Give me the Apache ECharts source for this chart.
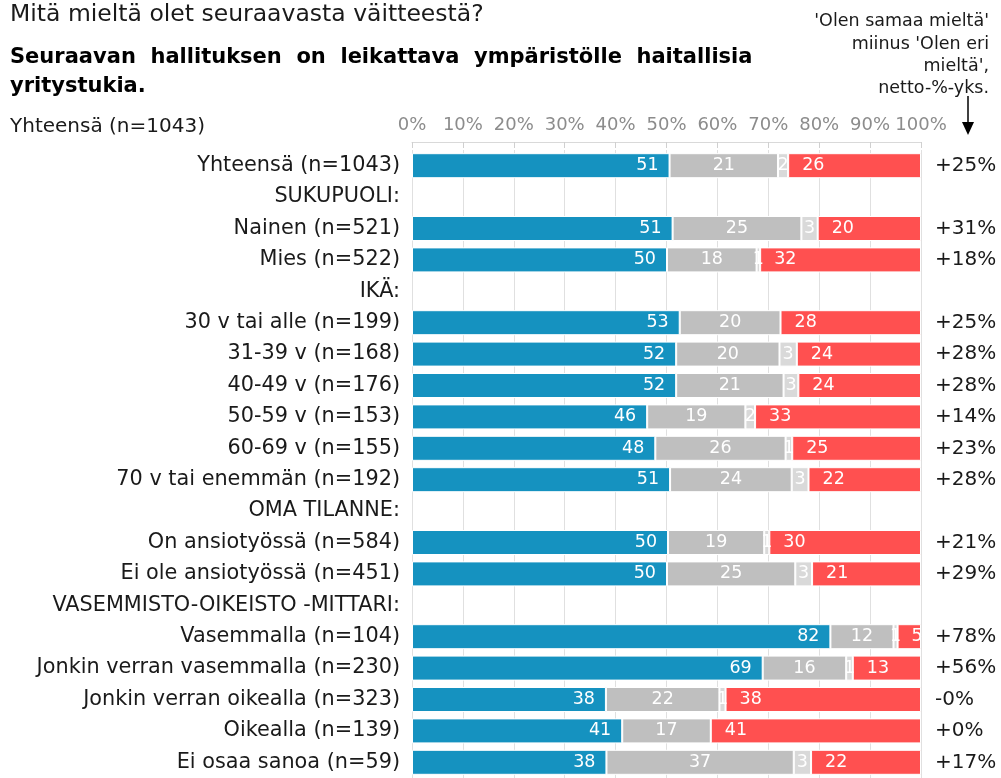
<!DOCTYPE html>
<html>
<head>
<meta charset="utf-8">
<script src="https://cdn.jsdelivr.net/npm/echarts@6/dist/echarts.min.js"></script>
<style>
html,body{margin:0;padding:0;background:#fff;}
#chart{width:1001px;height:778px;}
</style>
</head>
<body>
<div id="chart"></div>
<script>
const categories = ['Yhteensä (n=1043)', 'SUKUPUOLI:', 'Nainen (n=521)', 'Mies (n=522)', 'IKÄ:',
  '30 v tai alle (n=199)', '31-39 v (n=168)', '40-49 v (n=176)', '50-59 v (n=153)', '60-69 v (n=155)',
  '70 v tai enemmän (n=192)', 'OMA TILANNE:', 'On ansiotyössä (n=584)', 'Ei ole ansiotyössä (n=451)',
  'VASEMMISTO-OIKEISTO -MITTARI:', 'Vasemmalla (n=104)', 'Jonkin verran vasemmalla (n=230)',
  'Jonkin verran oikealla (n=323)', 'Oikealla (n=139)', 'Ei osaa sanoa (n=59)'];

const agree    = [50.6, null, 51.2, 50.1, null, 52.6, 51.9, 51.9, 46.2, 47.8, 50.7, null, 50.3, 50.1, null, 82.2, 68.9, 38.1, 41.3, 38.2];
const neutral  = [21.3, null, 25.3, 17.6, null, 19.8, 20.3, 21.1, 19.3, 25.6, 23.9, null, 18.9, 25.2, null, 12.4, 16.4, 22.3, 17.4, 36.8];
const dontKnow = [2.0,  null, 3.2,  0.7,  null, 0,    3.4,  2.9,  1.9,  1.3,  3.3,  null, 1.0,  3.3,  null, 0.8,  1.3,  1.2,  0,    3.4];
const disagree = [26.1, null, 20.3, 31.6, null, 27.6, 24.4, 24.1, 32.6, 25.3, 22.1, null, 29.8, 21.4, null, 4.6,  13.4, 38.4, 41.3, 21.6];
const netLabels = ['+25%', '', '+31%', '+18%', '', '+25%', '+28%', '+28%', '+14%', '+23%', '+28%', '', '+21%', '+29%', '', '+78%', '+56%', '-0%', '+0%', '+17%'];
const xTicks = [0, 10, 20, 30, 40, 50, 60, 70, 80, 90, 100];

const FONT = 'DejaVu Sans';
const fmt = p => (p.value == null || p.value === 0) ? '' : String(Math.round(p.value));

function mkSeries(name, data, color, pos, dist) {
  return {
    name, type: 'bar', stack: 'all', data, barWidth: 25,
    itemStyle: { color, borderColor: '#ffffff', borderWidth: 1 },
    label: { show: true, position: pos, distance: dist, color: '#ffffff', fontSize: 17.5, fontFamily: FONT, formatter: fmt },
    emphasis: { disabled: true }
  };
}

const chart = echarts.init(document.getElementById('chart'), null, { renderer: 'canvas' });
chart.setOption({
  animation: false,
  textStyle: { fontFamily: FONT },
  grid: { left: 412, right: 80, top: 150, bottom: -5, containLabel: false },
  xAxis: {
    type: 'value', position: 'top', min: xTicks[0], max: xTicks[xTicks.length - 1], interval: 10, offset: 8,
    axisLine: { show: true, lineStyle: { color: '#d9d9d9' } },
    axisTick: { show: true, inside: true, length: 6, lineStyle: { color: '#d0d0d0' } },
    axisLabel: { color: '#8c8c8c', fontSize: 18, margin: 8, formatter: '{value}%' },
    splitLine: { show: true, lineStyle: { color: '#e0e0e0', width: 1 } }
  },
  yAxis: [
    {
      type: 'category', data: categories, inverse: true,
      axisLine: { show: false }, axisTick: { show: false },
      axisLabel: { color: '#1a1a1a', fontSize: 20.8, margin: 12 }
    },
    {
      type: 'category', data: netLabels, inverse: true, position: 'right',
      axisLine: { show: false }, axisTick: { show: false },
      axisLabel: { color: '#1a1a1a', fontSize: 20, margin: 14, align: 'left' }
    }
  ],
  series: [
    mkSeries('Olen samaa mieltä', agree, '#1592c0', 'insideRight', 11),
    mkSeries('En samaa enkä eri mieltä', neutral, '#bfbfbf', 'inside', 5),
    mkSeries('En osaa sanoa', dontKnow, '#d9d9d9', 'inside', 5),
    mkSeries('Olen eri mieltä', disagree, '#ff5050', 'insideLeft', 14)
  ],
  graphic: [
    { type: 'text', x: 10, y: 15, style: { text: 'Mitä mieltä olet seuraavasta väitteestä?', font: '23.5px "DejaVu Sans"', fill: '#1a1a1a', textVerticalAlign: 'middle' } },
    { type: 'text', x: 10, y: 58, style: { text: 'Seuraavan  hallituksen  on  leikattava  ympäristölle  haitallisia', font: 'bold 21px "DejaVu Sans"', fill: '#000', textVerticalAlign: 'middle' } },
    { type: 'text', x: 10, y: 87, style: { text: 'yritystukia.', font: 'bold 21px "DejaVu Sans"', fill: '#000', textVerticalAlign: 'middle' } },
    { type: 'text', x: 10, y: 127, style: { text: 'Yhteensä (n=1043)', font: '20px "DejaVu Sans"', fill: '#1a1a1a', textVerticalAlign: 'middle' } },
    { type: 'text', x: 989, y: 21, style: { text: "'Olen samaa mieltä'", font: '17.5px "DejaVu Sans"', fill: '#1a1a1a', textAlign: 'right', textVerticalAlign: 'middle' } },
    { type: 'text', x: 989, y: 44, style: { text: "miinus 'Olen eri", font: '17.5px "DejaVu Sans"', fill: '#1a1a1a', textAlign: 'right', textVerticalAlign: 'middle' } },
    { type: 'text', x: 989, y: 66, style: { text: "mieltä',", font: '17.5px "DejaVu Sans"', fill: '#1a1a1a', textAlign: 'right', textVerticalAlign: 'middle' } },
    { type: 'text', x: 989, y: 88, style: { text: 'netto-%-yks.', font: '17.5px "DejaVu Sans"', fill: '#1a1a1a', textAlign: 'right', textVerticalAlign: 'middle' } },
    { type: 'line', shape: { x1: 968, y1: 96, x2: 968, y2: 126 }, style: { stroke: '#000', lineWidth: 1.5 } },
    { type: 'polygon', shape: { points: [[962, 122], [974, 122], [968, 135]] }, style: { fill: '#000' } }
  ]
});
</script>
</body>
</html>
